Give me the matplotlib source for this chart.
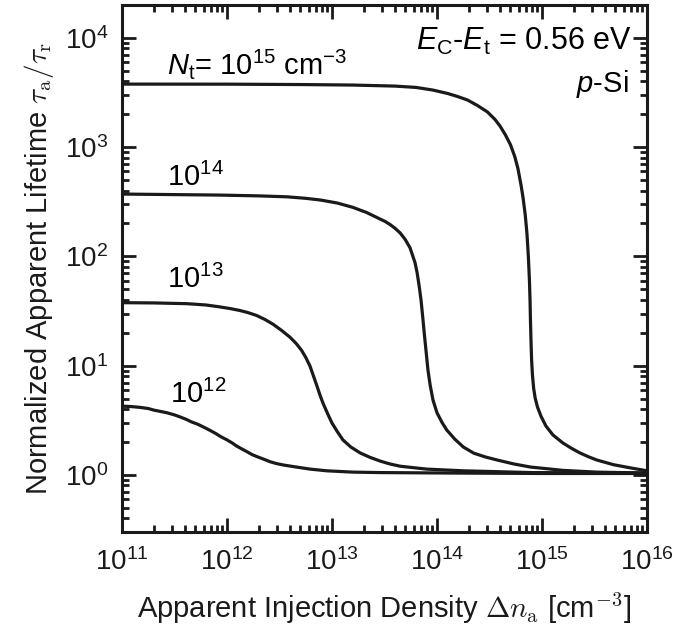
import matplotlib.pyplot as plt
from matplotlib.ticker import LogLocator, NullFormatter

plt.rcParams['font.family'] = 'Liberation Sans'
plt.rcParams['mathtext.fontset'] = 'custom'
plt.rcParams['mathtext.rm'] = 'Liberation Sans'
plt.rcParams['mathtext.it'] = 'Liberation Sans:italic'
plt.rcParams['mathtext.bf'] = 'Liberation Sans:bold'

# apparent injection density [cm^-3] and normalized apparent lifetime tau_a/tau_r
dn_12 = [1.0e11, 1.23e11, 1.48e11, 1.78e11, 2.0e11, 2.29e11, 2.69e11, 3.16e11,
         3.55e11, 4.07e11, 4.57e11, 5.25e11, 5.89e11, 6.76e11, 7.76e11, 8.71e11,
         1.0e12, 1.12e12, 1.23e12, 1.38e12, 1.55e12, 1.74e12, 2.0e12, 2.29e12,
         2.57e12, 2.95e12, 3.47e12, 4.57e12, 6.17e12, 8.91e12, 1.58e13, 2.88e13,
         1.32e14, 1.0e15, 1.0e16]
ratio_12 = [4.26, 4.22, 4.15, 4.05, 3.92, 3.82, 3.70, 3.54,
            3.40, 3.23, 3.06, 2.91, 2.76, 2.58, 2.40, 2.24,
            2.09, 1.96, 1.84, 1.73, 1.63, 1.53, 1.45, 1.38,
            1.32, 1.27, 1.23, 1.18, 1.13, 1.09, 1.06, 1.05,
            1.04, 1.03, 1.03]

dn_13 = [1.0e11, 2.0e11, 4.17e11, 6.31e11, 8.51e11, 1.07e12, 1.32e12, 1.58e12,
         1.91e12, 2.29e12, 2.75e12, 3.31e12, 3.98e12, 4.57e12, 5.13e12, 5.62e12,
         6.17e12, 6.61e12, 7.19e12, 7.67e12, 8.20e12, 9.12e12, 1.0e13, 1.12e13,
         1.27e13, 1.51e13, 1.85e13, 2.29e13, 2.86e13, 3.55e13, 4.47e13, 7.94e13,
         1.78e14, 7.94e14, 1.0e16]
ratio_13 = [37.7, 37.5, 36.9, 35.9, 34.5, 33.3, 32.0, 30.6,
            28.8, 26.5, 23.9, 21.0, 18.2, 15.9, 13.8, 11.9,
            9.9, 8.2, 6.5, 5.4, 4.54, 3.6, 2.98, 2.5,
            2.09, 1.80, 1.59, 1.45, 1.34, 1.26, 1.20, 1.13,
            1.09, 1.05, 1.04]

dn_14 = [1.0e11, 8.51e11, 2.0e12, 3.72e12, 5.62e12, 7.76e12, 1.12e13, 1.58e13,
         2.14e13, 2.86e13, 3.20e13, 3.56e13, 3.98e13, 4.45e13, 4.95e13, 5.53e13,
         6.17e13, 6.46e13, 6.75e13, 7.05e13, 7.36e13, 7.59e13, 7.85e13, 8.20e13,
         8.61e13, 9.16e13, 1.0e14, 1.12e14, 1.24e14, 1.48e14, 1.78e14, 2.24e14,
         2.88e14, 3.72e14, 5.37e14, 7.76e14, 1.58e15, 3.31e15, 1.0e16]
ratio_14 = [372, 364, 358, 351, 340, 328, 308, 281,
            252, 220, 209, 196, 181, 164, 144, 120,
            87.8, 71.1, 54.2, 39.5, 26, 19, 13.8, 9.1,
            6.6, 4.83, 3.7, 3.0, 2.57, 2.12, 1.80, 1.58,
            1.46, 1.37, 1.26, 1.18, 1.10, 1.06, 1.04]

dn_15 = [1.0e11, 1.0e12, 5.01e12, 1.58e13, 3.98e13, 6.31e13, 9.12e13, 1.26e14,
         1.58e14, 1.95e14, 2.40e14, 3.02e14, 3.55e14, 3.98e14, 4.47e14, 5.01e14,
         5.50e14, 5.89e14, 6.31e14, 6.61e14, 6.92e14, 7.19e14, 7.41e14, 7.59e14,
         7.69e14, 7.76e14, 7.85e14, 7.96e14, 8.11e14, 8.32e14, 8.61e14, 9.06e14,
         9.77e14, 1.09e15, 1.27e15, 1.58e15, 1.91e15, 2.29e15, 2.75e15, 3.31e15,
         4.79e15, 6.92e15, 1.0e16]
ratio_15 = [3775, 3770, 3740, 3700, 3620, 3520, 3330, 3100,
            2900, 2700, 2420, 2100, 1800, 1560, 1300, 1050,
            820, 640, 450, 340, 240, 161, 100, 60,
            39.5, 26.0, 17.1, 11.2, 8.17, 6.22, 5.04, 4.17,
            3.45, 2.80, 2.32, 1.96, 1.75, 1.59, 1.47, 1.37,
            1.24, 1.16, 1.09]

fig = plt.figure(figsize=(6.73, 6.32), dpi=100)
ax = fig.add_axes([0.1813, 0.1582, 0.7801, 0.8339])

for dn, ratio in [(dn_12, ratio_12), (dn_13, ratio_13), (dn_14, ratio_14), (dn_15, ratio_15)]:
    ax.plot(dn, ratio, color='#1a1a1a', lw=2.3, solid_joinstyle='round')

ax.set_xscale('log')
ax.set_yscale('log')
ax.set_xlim(1e11, 1e16)
ax.set_ylim(0.3, 2e4)

ax.xaxis.set_major_locator(LogLocator(base=10, numticks=10))
ax.yaxis.set_major_locator(LogLocator(base=10, numticks=10))
ax.xaxis.set_minor_locator(LogLocator(base=10, subs=range(2, 10), numticks=20))
ax.yaxis.set_minor_locator(LogLocator(base=10, subs=range(2, 10), numticks=20))
ax.xaxis.set_minor_formatter(NullFormatter())
ax.yaxis.set_minor_formatter(NullFormatter())

ax.tick_params(which='both', direction='in', top=True, right=True, colors='#1a1a1a')
ax.tick_params(which='major', length=10, width=2, labelsize=20)
ax.tick_params(which='minor', length=5, width=2)
ax.tick_params(axis='x', which='major', pad=12)
ax.tick_params(axis='y', which='major', pad=10)
for sp in ax.spines.values():
    sp.set_linewidth(2.2)
    sp.set_color('#1a1a1a')

ax.set_xlabel(r'Apparent Injection Density $\Delta n_\mathrm{a}$ [cm$^{-3}$]',
              fontsize=21, math_fontfamily='cm', color='#1a1a1a')
ax.set_ylabel(r'Normalized Apparent Lifetime $\tau_\mathrm{a}/\tau_\mathrm{r}$',
              fontsize=21, math_fontfamily='cm', color='#1a1a1a')
ax.xaxis.set_label_coords(0.5, -0.112)
ax.yaxis.set_label_coords(-0.125, 0.5)

# curve labels
ax.text(2.7e11, 4656, r'$N_\mathrm{t}$= 10$^{15}$ cm$^{-3}$', fontsize=21, va='baseline')
ax.text(2.7e11, 443, r'10$^{14}$', fontsize=21, va='baseline')
ax.text(2.7e11, 51.9, r'10$^{13}$', fontsize=21, va='baseline')
ax.text(2.85e11, 4.54, r'10$^{12}$', fontsize=21, va='baseline')

ax.text(0.971, 0.915, r'$E_\mathrm{C}$-$E_\mathrm{t}$ = 0.56 eV', transform=ax.transAxes,
        fontsize=22, ha='right', va='baseline')
ax.text(0.964, 0.835, r'$p$-Si', transform=ax.transAxes,
        fontsize=21, ha='right', va='baseline')

fig.savefig('out.png', dpi=100)
